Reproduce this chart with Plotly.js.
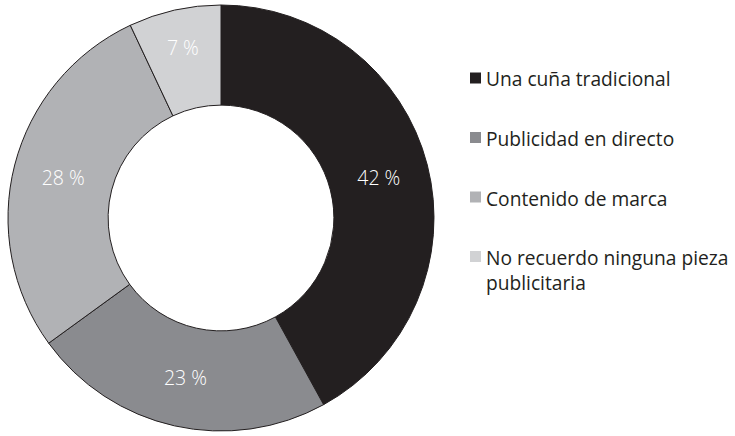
<!DOCTYPE html>
<html>
<head>
<meta charset="utf-8">
<script src="https://cdn.plot.ly/plotly-3.0.1.min.js"></script>
<style>html,body{margin:0;padding:0;background:#fff;}#chart{width:735px;height:436px;}</style>
</head>
<body>
<div id="chart"></div>
<script>
const categories = ["Una cuña tradicional", "Publicidad en directo", "Contenido de marca", "No recuerdo ninguna pieza<br>publicitaria"];
const values = [42, 23, 28, 7];
const colors = ["#231f20", "#8a8b8f", "#b1b2b5", "#d1d2d4"];

const W = 735, H = 436;
const FONT = "Open Sans, Noto Sans, sans-serif";

const trace = {
  type: "pie",
  labels: categories,
  values: values,
  sort: false,
  direction: "clockwise",
  rotation: 0,
  hole: 0.53,
  marker: { colors: colors, line: { color: "#231f20", width: 1 } },
  textinfo: "none",
  texttemplate: "%{value} %",
  textposition: "inside",
  insidetextorientation: "horizontal",
  textfont: { family: FONT, size: 19.5, color: "#ffffff", weight: 300 },
  hoverinfo: "label+value",
  showlegend: false,
  domain: { x: [8 / W, 434 / W], y: [1 - 431 / H, 1 - 5 / H] }
};

// custom legend (squares + text) built from categories/colors
const annotations = [];
const shapes = [];
const legX = 470, sq = 11, textX = 484, firstY = 78, stepY = 59.5, lineGap = 25;
categories.forEach((c, i) => {
  const cy = firstY + i * stepY;
  shapes.push({
    type: "rect", xref: "paper", yref: "paper",
    x0: legX / W, x1: (legX + sq) / W,
    y0: 1 - (cy + sq / 2) / H, y1: 1 - (cy - sq / 2) / H,
    fillcolor: colors[i], line: { width: 0 }
  });
  c.split("<br>").forEach((line, j) => {
    annotations.push({
      xref: "paper", yref: "paper",
      x: textX / W, y: 1 - (cy + 1 + j * lineGap) / H,
      xanchor: "left", yanchor: "middle",
      text: line, showarrow: false,
      font: { family: FONT, size: 19.2, color: "#231f20", weight: 400 }
    });
  });
});

const layout = {
  width: W, height: H,
  margin: { l: 0, r: 0, t: 0, b: 0 },
  paper_bgcolor: "#ffffff",
  plot_bgcolor: "#ffffff",
  showlegend: false,
  annotations: annotations,
  shapes: shapes
};

Plotly.newPlot("chart", [trace], layout, { displayModeBar: false, staticPlot: true });
</script>
</body>
</html>
